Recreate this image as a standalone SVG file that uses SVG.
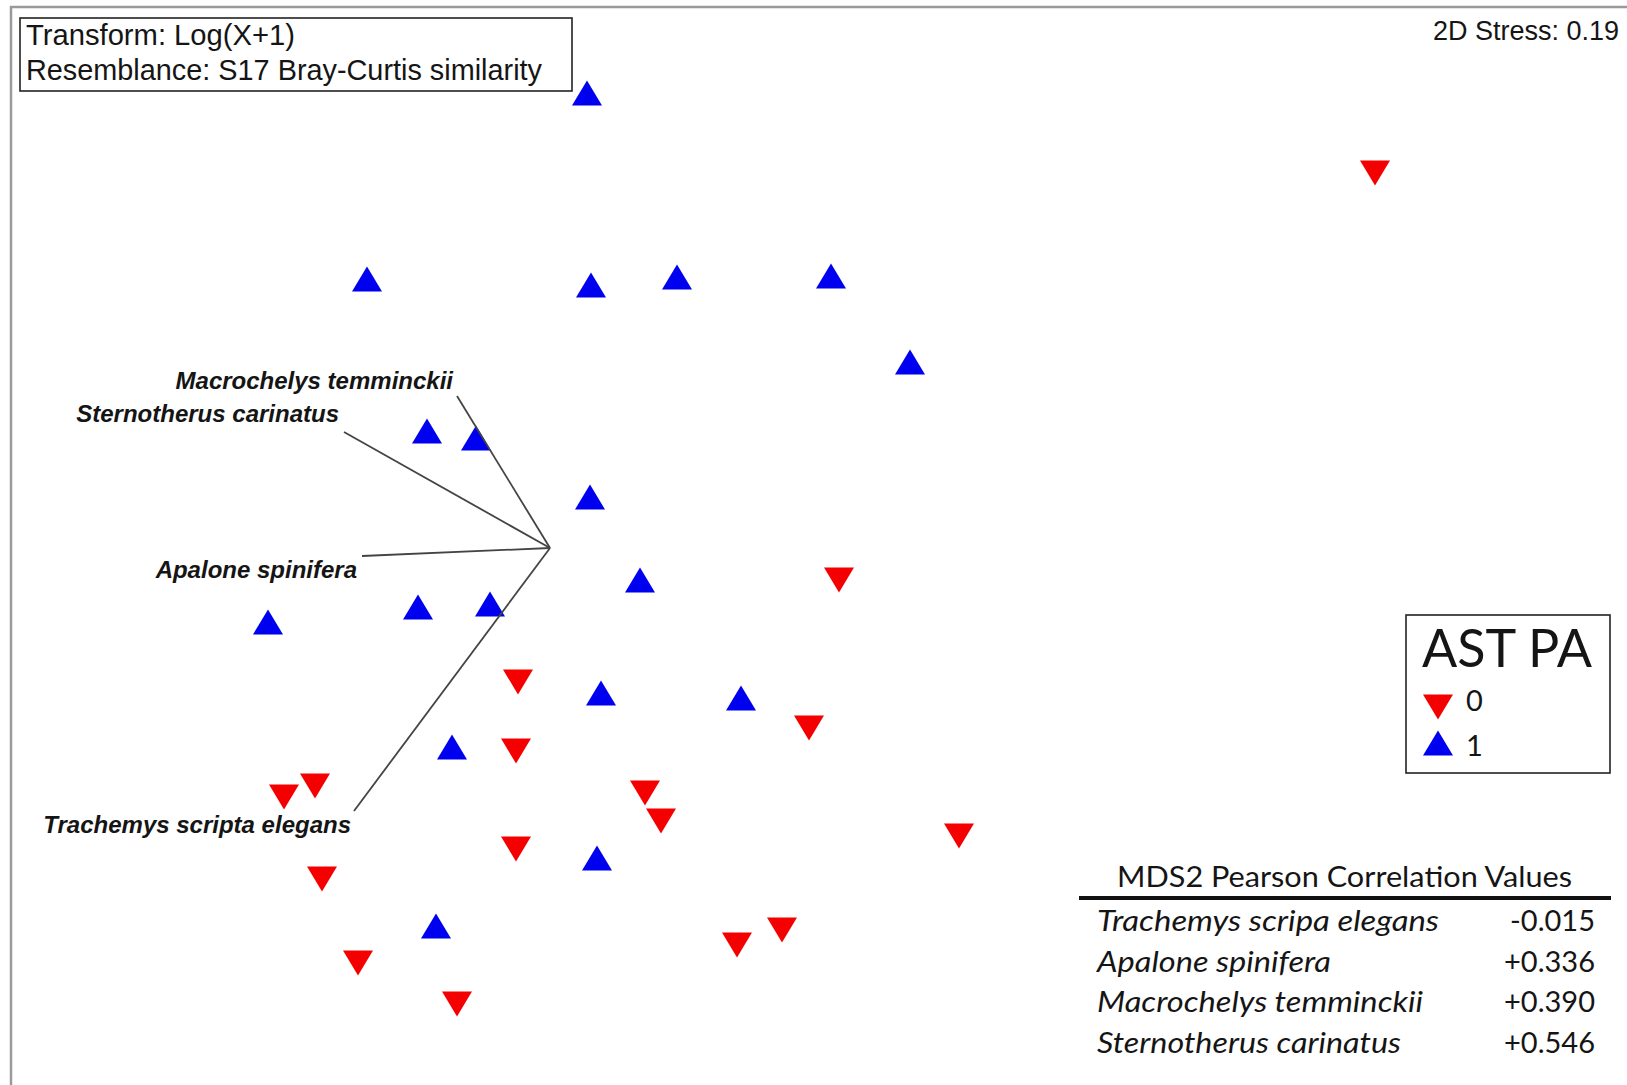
<svg xmlns="http://www.w3.org/2000/svg" xmlns:xlink="http://www.w3.org/1999/xlink" width="1627" height="1085" viewBox="0 0 1627 1085">
<style>
.frame{fill:none;stroke:#9a9a9a;stroke-width:2.5}
.box{fill:#fff;stroke:#222;stroke-width:1.6}
.arial{font-family:"Liberation Sans",Arial,sans-serif;fill:#151515}
.lab{font-family:"Liberation Sans",Arial,sans-serif;font-weight:bold;font-style:italic;font-size:24px;fill:#151515}
.cal{font-family:Lato,"Noto Sans",sans-serif;fill:#151515}
.vec{stroke:#444;stroke-width:1.8;fill:none}
.up{fill:#0000f0}
.dn{fill:#f50000}
</style>
<defs>
<path id="u" d="M0,-12.5 L15,12.5 L-15,12.5Z"/>
<path id="d" d="M0,12.5 L15,-12.5 L-15,-12.5Z"/>
</defs>
<rect width="1627" height="1085" fill="#fff"/>
<path class="frame" d="M11,1085 V7 H1627"/>

<g id="header">
<rect class="box" x="20" y="18" width="552" height="73"/>
<text class="arial" x="26" y="45" font-size="29" textLength="269" lengthAdjust="spacingAndGlyphs">Transform: Log(X+1)</text>
<text class="arial" x="26" y="80" font-size="29" textLength="516" lengthAdjust="spacingAndGlyphs">Resemblance: S17 Bray-Curtis similarity</text>
</g>
<g id="stress">
<text class="arial" x="1619" y="40" font-size="27" text-anchor="end">2D Stress: 0.19</text>
</g>

<g id="points-1">
<use href="#u" class="up" x="587" y="93"/>
<use href="#u" class="up" x="367" y="279"/>
<use href="#u" class="up" x="591" y="285"/>
<use href="#u" class="up" x="677" y="277"/>
<use href="#u" class="up" x="831" y="276"/>
<use href="#u" class="up" x="910" y="362"/>
<use href="#u" class="up" x="427" y="431"/>
<use href="#u" class="up" x="476" y="438"/>
<use href="#u" class="up" x="590" y="497"/>
<use href="#u" class="up" x="640" y="580"/>
<use href="#u" class="up" x="268" y="622"/>
<use href="#u" class="up" x="418" y="607"/>
<use href="#u" class="up" x="490" y="604"/>
<use href="#u" class="up" x="601" y="693"/>
<use href="#u" class="up" x="741" y="698"/>
<use href="#u" class="up" x="452" y="747"/>
<use href="#u" class="up" x="597" y="858"/>
<use href="#u" class="up" x="436" y="926"/>
</g>
<g id="points-0">
<use href="#d" class="dn" x="1375" y="173"/>
<use href="#d" class="dn" x="839" y="580"/>
<use href="#d" class="dn" x="518" y="682"/>
<use href="#d" class="dn" x="809" y="728"/>
<use href="#d" class="dn" x="516" y="751"/>
<use href="#d" class="dn" x="284" y="797"/>
<use href="#d" class="dn" x="315" y="786"/>
<use href="#d" class="dn" x="645" y="793"/>
<use href="#d" class="dn" x="661" y="821"/>
<use href="#d" class="dn" x="959" y="836"/>
<use href="#d" class="dn" x="516" y="849"/>
<use href="#d" class="dn" x="322" y="879"/>
<use href="#d" class="dn" x="782" y="930"/>
<use href="#d" class="dn" x="737" y="945"/>
<use href="#d" class="dn" x="358" y="963"/>
<use href="#d" class="dn" x="457" y="1004"/>
</g>

<g id="connectors">
<line class="vec" x1="550" y1="548" x2="457" y2="396"/>
<line class="vec" x1="550" y1="548" x2="344" y2="432"/>
<line class="vec" x1="550" y1="548" x2="362" y2="556"/>
<line class="vec" x1="550" y1="548" x2="354" y2="811"/>
</g>
<g id="vector-labels">
<text class="lab" x="453" y="389" text-anchor="end">Macrochelys temminckii</text>
<text class="lab" x="339" y="422" text-anchor="end">Sternotherus carinatus</text>
<text class="lab" x="357" y="578" text-anchor="end">Apalone spinifera</text>
<text class="lab" x="351" y="833" text-anchor="end">Trachemys scripta elegans</text>
</g>

<g id="legend">
<rect class="box" x="1406" y="615" width="204" height="158"/>
<text class="cal" x="1422" y="667" font-size="52" textLength="170" lengthAdjust="spacingAndGlyphs">AST PA</text>
<use href="#d" class="dn" x="1438" y="707"/>
<text class="cal" x="1466" y="711" font-size="29">0</text>
<use href="#u" class="up" x="1438" y="743"/>
<text class="cal" x="1466" y="756" font-size="29">1</text>
</g>

<g id="table">
<text class="cal" x="1117" y="887" font-size="29" textLength="455" lengthAdjust="spacingAndGlyphs">MDS2 Pearson Correlation Values</text>
<line x1="1079" y1="898" x2="1611" y2="898" stroke="#111" stroke-width="4"/>
<g font-style="italic">
<text class="cal" x="1097" y="931" font-size="29" textLength="342" lengthAdjust="spacingAndGlyphs">Trachemys scripa elegans</text>
<text class="cal" x="1097" y="972" font-size="29" textLength="234" lengthAdjust="spacingAndGlyphs">Apalone spinifera</text>
<text class="cal" x="1097" y="1012" font-size="29" textLength="326" lengthAdjust="spacingAndGlyphs">Macrochelys temminckii</text>
<text class="cal" x="1097" y="1053" font-size="29" textLength="304" lengthAdjust="spacingAndGlyphs">Sternotherus carinatus</text>
</g>
<text class="cal" x="1595" y="931" font-size="29" text-anchor="end">-0.015</text>
<text class="cal" x="1595" y="972" font-size="29" text-anchor="end">+0.336</text>
<text class="cal" x="1595" y="1012" font-size="29" text-anchor="end">+0.390</text>
<text class="cal" x="1595" y="1053" font-size="29" text-anchor="end">+0.546</text>
</g>
</svg>
